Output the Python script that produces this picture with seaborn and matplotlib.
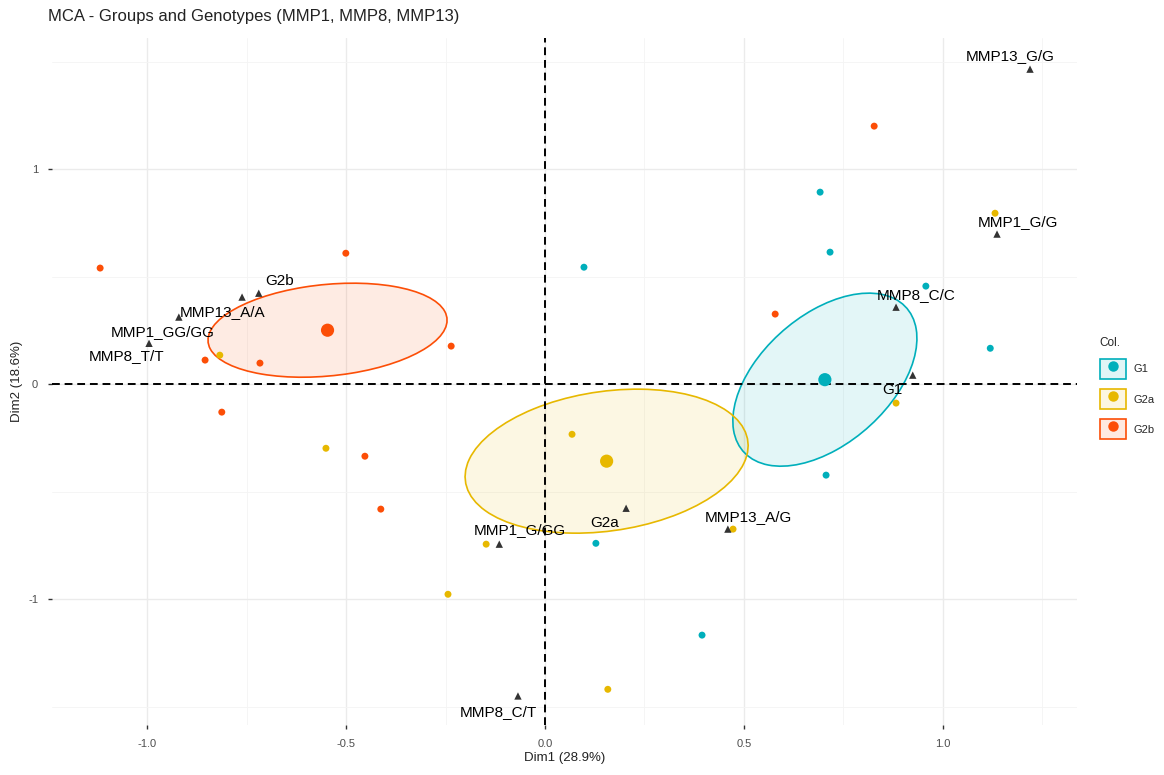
import numpy as np
import pandas as pd
import matplotlib
matplotlib.use("Agg")
import matplotlib.pyplot as plt
from matplotlib.patches import Ellipse, Patch
from matplotlib.lines import Line2D
from matplotlib.ticker import MultipleLocator
import seaborn as sns

# ----------------------------- #
# Data
# ----------------------------- #
groups = ["G1", "G2a", "G2b"]
colors = ["#00AFBB", "#E7B800", "#FC4E07"]

# individuals
g1_x = [0.098, 0.692, 0.717, 0.958, 1.120, 0.707, 0.128, 0.395]
g1_y = [0.544, 0.893, 0.614, 0.456, 0.167, -0.423, -0.740, -1.167]
g2a_x = [-0.818, -0.551, 0.068, -0.148, -0.244, 0.158, 0.473, 0.883, 1.132]
g2a_y = [0.135, -0.298, -0.233, -0.744, -0.977, -1.419, -0.674, -0.088, 0.795]
g2b_x = [-1.119, -0.501, -0.855, -0.717, -0.236, -0.813, -0.453, -0.413, 0.828, 0.579]
g2b_y = [0.540, 0.609, 0.112, 0.098, 0.177, -0.130, -0.335, -0.581, 1.200, 0.326]

# group means (ellipse centres)
mean_x = [0.704, 0.155, -0.547]
mean_y = [0.021, -0.358, 0.251]

# ellipse matrices in data units (var x, var y, cov xy)
ell_xx = [0.0536, 0.1267, 0.0904]
ell_yy = [0.1619, 0.1121, 0.0478]
ell_xy = [0.0445, 0.0257, 0.0140]

# variable categories
var_names = ["MMP13_G/G", "MMP1_G/G", "MMP8_C/C", "G1", "G2b", "MMP13_A/A",
             "MMP1_GG/GG", "MMP8_T/T", "G2a", "MMP13_A/G", "MMP1_G/GG", "MMP8_C/T"]
var_x = [1.220, 1.137, 0.883, 0.925, -0.720, -0.762, -0.921, -0.996, 0.204, 0.460, -0.115, -0.068]
var_y = [1.465, 0.698, 0.358, 0.042, 0.423, 0.405, 0.312, 0.190, -0.577, -0.674, -0.744, -1.450]

# label offsets (pixels) as placed by the repel step
label_dx = [-20, 21, 20, -20, 21, -20, -16, -22, -21, 20, 21, -20]
label_dy = [13, 12, 12, -15, 12, -15, -15, -13, -15, 12, 14, -16]

ind = pd.DataFrame({
    "Dim1": g1_x + g2a_x + g2b_x,
    "Dim2": g1_y + g2a_y + g2b_y,
    "Col.": ["G1"] * len(g1_x) + ["G2a"] * len(g2a_x) + ["G2b"] * len(g2b_x),
})
means = pd.DataFrame({"Dim1": mean_x, "Dim2": mean_y, "Col.": groups})
var = pd.DataFrame({"Dim1": var_x, "Dim2": var_y, "name": var_names})

# ----------------------------- #
# Plot
# ----------------------------- #
sns.set_theme(style="whitegrid")
plt.rcParams["font.family"] = ["Liberation Sans", "DejaVu Sans"]

fig = plt.figure(figsize=(11.64, 7.75), dpi=100)
ax = fig.add_axes([0.0447, 0.0645, 0.8805, 0.8865])
palette = dict(zip(groups, colors))

# ellipses
for i, g in enumerate(groups):
    m = np.array([[ell_xx[i], ell_xy[i]], [ell_xy[i], ell_yy[i]]])
    vals, vecs = np.linalg.eigh(m)
    angle = np.degrees(np.arctan2(vecs[1, 1], vecs[0, 1]))
    w, h = 2 * np.sqrt(vals[1]), 2 * np.sqrt(vals[0])
    ax.add_patch(Ellipse((mean_x[i], mean_y[i]), w, h, angle=angle, facecolor=colors[i],
                         alpha=0.11, edgecolor="none", zorder=1))
    ax.add_patch(Ellipse((mean_x[i], mean_y[i]), w, h, angle=angle, facecolor="none",
                         edgecolor=colors[i], lw=1.2, zorder=2))

ax.axhline(0, color="black", lw=1.4, ls=(0, (4, 2.5)), zorder=3)
ax.axvline(0, color="black", lw=1.4, ls=(0, (4, 2.5)), zorder=3)

sns.scatterplot(data=ind, x="Dim1", y="Dim2", hue="Col.", palette=palette, s=25,
                edgecolor="none", legend=False, ax=ax, zorder=4)
sns.scatterplot(data=means, x="Dim1", y="Dim2", hue="Col.", palette=palette, s=90,
                edgecolor="none", legend=False, ax=ax, zorder=4)
sns.scatterplot(data=var, x="Dim1", y="Dim2", marker="^", color="#333333", s=28,
                edgecolor="none", legend=False, ax=ax, zorder=5)

for i, row in var.iterrows():
    ax.annotate(row["name"], (row["Dim1"], row["Dim2"]), xytext=(label_dx[i], label_dy[i]),
                textcoords="offset pixels", ha="center", va="center", fontsize=11,
                color="black", zorder=6)

ax.set_xlim(-1.24, 1.338)
ax.set_ylim(-1.585, 1.61)
ax.xaxis.set_minor_locator(MultipleLocator(0.25))
ax.yaxis.set_minor_locator(MultipleLocator(0.5))
ax.set_xticks([-1.0, -0.5, 0.0, 0.5, 1.0])
ax.set_xticklabels(["-1.0", "-0.5", "0.0", "0.5", "1.0"])
ax.set_yticks([-1, 0, 1])
ax.set_yticklabels(["-1", "0", "1"])
ax.grid(which="major", color="#EBEBEB", lw=1.0)
ax.grid(which="minor", color="#F4F4F4", lw=0.6)
for s in ax.spines.values():
    s.set_visible(False)
ax.tick_params(which="major", length=3, width=1, color="#333333", labelsize=8,
               labelcolor="#4D4D4D", pad=7, direction="out", bottom=True, left=True)
ax.tick_params(which="minor", length=0)

ax.set_xlabel("Dim1 (28.9%)", fontsize=9.5, color="#222222", labelpad=2)
ax.set_ylabel("Dim2 (18.6%)", fontsize=9.5, color="#222222", labelpad=4)
ax.set_title("MCA - Groups and Genotypes (MMP1, MMP8, MMP13)", loc="left",
             fontsize=12, color="#222222", pad=12, x=-0.004)

# legend: filled key with coloured border and a dot
handles = [(Patch(facecolor=c, alpha=0.12, edgecolor="none"),
            Patch(facecolor="none", edgecolor=c, lw=1.2),
            Line2D([], [], marker="o", ls="none", color=c, markersize=6.5))
           for c in colors]
fig.legend(handles, groups, title="Col.", loc="upper left", bbox_to_anchor=(0.936, 0.578),
           frameon=False, fontsize=8, title_fontsize=8.5, handlelength=2.4, handleheight=2.4,
           labelspacing=0.9, handletextpad=0.7, alignment="left")

fig.savefig("out.png", dpi=100)
